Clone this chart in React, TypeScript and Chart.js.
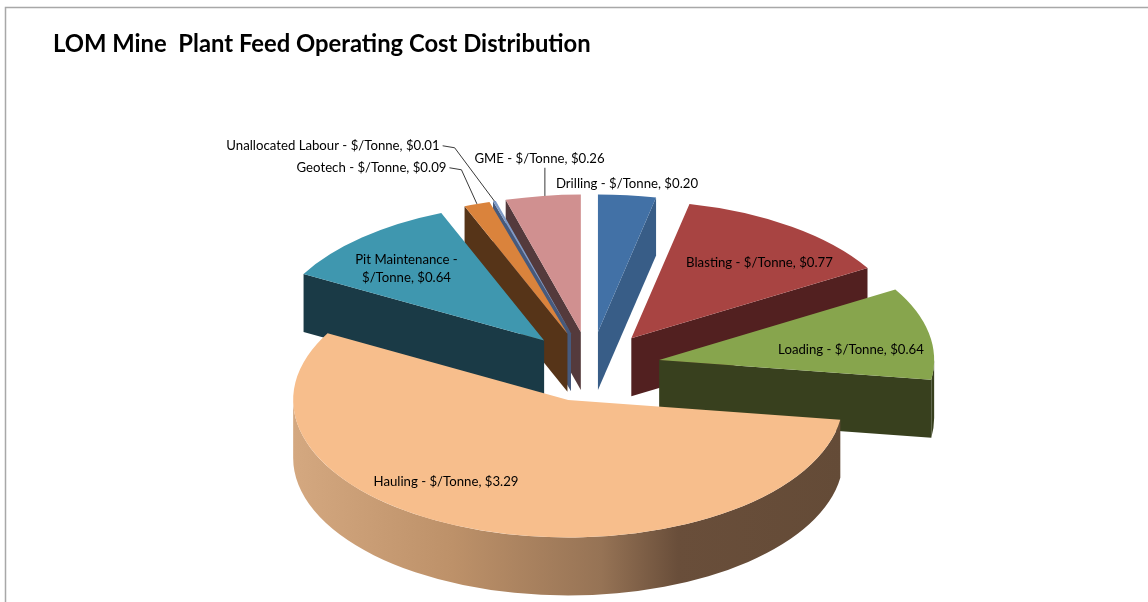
import { useEffect, useRef } from "react";
import { Chart, registerables } from "chart.js";

Chart.register(...registerables);

const TITLE = "LOM Mine  Plant Feed Operating Cost Distribution";
const categories = [
  "Drilling",
  "Blasting",
  "Loading",
  "Hauling",
  "Pit Maintenance",
  "Geotech",
  "Unallocated Labour",
  "GME",
];
const costPerTonne = [0.2, 0.77, 0.64, 3.29, 0.64, 0.09, 0.01, 0.26];
const topColors = ["#4271a6", "#a84442", "#87a54d", "#f7be8c", "#3f97af", "#da833c", "#7f9ac6", "#d09090"];
const wallColors = ["#385d87", "#522020", "#38401e", "#7a5a40", "#1a3a46", "#563418", "#465a7d", "#543a3c"];
const HAULING = categories.indexOf("Hauling");
const haulingWallStops: [number, string][] = [
  [0, "#d4a880"],
  [0.29, "#bd9169"],
  [0.56, "#967355"],
  [0.7, "#694e3a"],
  [1, "#644b37"],
];

// Pie projection: tilt squash, wall height, explode distance and disc radius
const TILT = 0.5;
const DEPTH = 58;
const EXPLODE = 70;
const RADIUS = 275;

// Label centres relative to the pie centre, and the style of each leader line
const labelPlacement: Record<string, { dx: number; dy: number; leader?: "elbow" | "drop" }> = {
  Drilling: { dx: 36.5, dy: -183 },
  Blasting: { dx: 169, dy: -104 },
  Loading: { dx: 260.5, dy: -17 },
  Hauling: { dx: -144.5, dy: 115 },
  "Pit Maintenance": { dx: -184, dy: -98 },
  Geotech: { dx: -219, dy: -199, leader: "elbow" },
  "Unallocated Labour": { dx: -257.5, dy: -221, leader: "elbow" },
  GME: { dx: -51, dy: -208, leader: "drop" },
};
const labelLines = (name: string, value: number) => {
  const amount = `$/Tonne, $${value.toFixed(2)}`;
  return name === "Pit Maintenance" ? [`${name} -`, amount] : [`${name} - ${amount}`];
};

const LABEL_FONT = "13.2px Lato";

// Screen position of an exploded slice's apex on the tilted disc
function sliceGeometry(arc: any) {
  const mid = (arc.startAngle + arc.endAngle) / 2;
  const shiftX = Math.cos(mid) * EXPLODE;
  const shiftY = Math.sin(mid) * EXPLODE;
  return {
    shiftX,
    shiftY,
    apexX: arc.x + shiftX,
    apexY: arc.y + TILT * shiftY,
    mid,
    r: arc.outerRadius,
  };
}

const rimPoint = (g: ReturnType<typeof sliceGeometry>, angle: number) => ({
  x: g.apexX + g.r * Math.cos(angle),
  y: g.apexY + TILT * g.r * Math.sin(angle),
});

function drawRadialWall(ctx: CanvasRenderingContext2D, g: any, angle: number, fill: string) {
  const p = rimPoint(g, angle);
  ctx.fillStyle = fill;
  ctx.beginPath();
  ctx.moveTo(g.apexX, g.apexY);
  ctx.lineTo(p.x, p.y);
  ctx.lineTo(p.x, p.y + DEPTH);
  ctx.lineTo(g.apexX, g.apexY + DEPTH);
  ctx.closePath();
  ctx.fill();
}

function drawOuterWall(ctx: CanvasRenderingContext2D, g: any, from: number, to: number, fill: any) {
  ctx.fillStyle = fill;
  ctx.beginPath();
  ctx.ellipse(g.apexX, g.apexY, g.r, g.r * TILT, 0, from, to);
  ctx.ellipse(g.apexX, g.apexY + DEPTH, g.r, g.r * TILT, 0, to, from, true);
  ctx.closePath();
  ctx.fill();
}

const frameAndExtrusion = {
  id: "frameAndExtrusion",
  beforeDraw(chart: any) {
    const { ctx, width, height } = chart;
    ctx.save();
    ctx.fillStyle = "#ffffff";
    ctx.fillRect(0, 0, width, height);
    ctx.strokeStyle = "#a8a8a8";
    ctx.lineWidth = 1.5;
    ctx.beginPath();
    ctx.moveTo(5.5, height);
    ctx.lineTo(5.5, 7.5);
    ctx.lineTo(width, 7.5);
    ctx.stroke();
    ctx.restore();
  },
  beforeDatasetsDraw(chart: any) {
    const { ctx } = chart;
    const arcs = chart.getDatasetMeta(0).data as any[];
    // Back-to-front so nearer slices cover the walls of those behind
    const order = arcs
      .map((arc, i) => ({ arc, i, g: sliceGeometry(arc) }))
      .sort((a, b) => a.g.apexY - b.g.apexY);

    for (const { arc, i, g } of order) {
      const wall = wallColors[i];
      // Radial faces turn towards the viewer only on the side where the slice lies above them
      if (Math.sin(arc.startAngle + Math.PI / 2) < 0) drawRadialWall(ctx, g, arc.startAngle, wall);
      if (Math.sin(arc.endAngle + Math.PI / 2) > 0) drawRadialWall(ctx, g, arc.endAngle, wall);
      // The rim shows only where it passes through the lower half of the ellipse
      const from = Math.max(arc.startAngle, 0);
      const to = Math.min(arc.endAngle, Math.PI);
      if (to > from) {
        let fill: any = wall;
        if (i === HAULING) {
          fill = ctx.createLinearGradient(g.apexX - g.r, 0, g.apexX + g.r, 0);
          haulingWallStops.forEach(([stop, color]) => fill.addColorStop(stop, color));
        }
        drawOuterWall(ctx, g, from, to, fill);
      }
      ctx.save();
      ctx.translate(g.shiftX, arc.y + TILT * g.shiftY);
      ctx.scale(1, TILT);
      ctx.translate(0, -arc.y);
      arc.draw(ctx, chart.chartArea);
      ctx.restore();
    }
    return false;
  },
  afterDraw(chart: any) {
    const { ctx } = chart;
    const arcs = chart.getDatasetMeta(0).data as any[];
    ctx.save();
    ctx.font = LABEL_FONT;
    ctx.textAlign = "center";
    ctx.textBaseline = "middle";
    arcs.forEach((arc, i) => {
      const name = categories[i];
      const place = labelPlacement[name];
      const lines = labelLines(name, costPerTonne[i]);
      const cx = arc.x + place.dx;
      const cy = arc.y + place.dy;
      if (place.leader) {
        const g = sliceGeometry(arc);
        const rim = rimPoint(g, g.mid);
        ctx.strokeStyle = "#222222";
        ctx.lineWidth = 0.9;
        ctx.beginPath();
        if (place.leader === "elbow") {
          const edge = cx + ctx.measureText(lines[0]).width / 2 + 3;
          ctx.moveTo(edge, cy);
          ctx.lineTo(edge + 12, cy + 2);
          ctx.lineTo(rim.x, rim.y);
        } else {
          ctx.moveTo(rim.x + 2, cy + 9);
          ctx.lineTo(rim.x + 2, rim.y);
        }
        ctx.stroke();
      }
      ctx.fillStyle = "#000000";
      lines.forEach((line, n) => {
        ctx.fillText(line, cx, cy + (n - (lines.length - 1) / 2) * 18);
      });
    });
    ctx.restore();
  },
};

export default function App() {
  const canvasRef = useRef<HTMLCanvasElement>(null);

  useEffect(() => {
    const chart = new Chart(canvasRef.current!, {
      type: "pie",
      data: {
        labels: categories,
        datasets: [
          {
            data: costPerTonne,
            backgroundColor: topColors,
            borderWidth: 0,
            radius: RADIUS,
          } as any,
        ],
      },
      options: {
        responsive: false,
        animation: false,
        layout: { padding: { left: 53, right: 20, top: 30, bottom: 0 } },
        plugins: {
          legend: { display: false },
          tooltip: { enabled: false },
          title: {
            display: true,
            text: TITLE,
            align: "start",
            color: "#000000",
            font: { family: "Lato", size: 23.8, weight: "bold" },
            padding: { top: 0, bottom: 73 },
          },
        },
      },
      plugins: [frameAndExtrusion],
    });
    return () => chart.destroy();
  }, []);

  return (
    <div style={{ position: "absolute", left: 0, top: 0, width: 1148, height: 602 }}>
      <canvas ref={canvasRef} width={1148} height={602} style={{ display: "block" }} />
    </div>
  );
}
